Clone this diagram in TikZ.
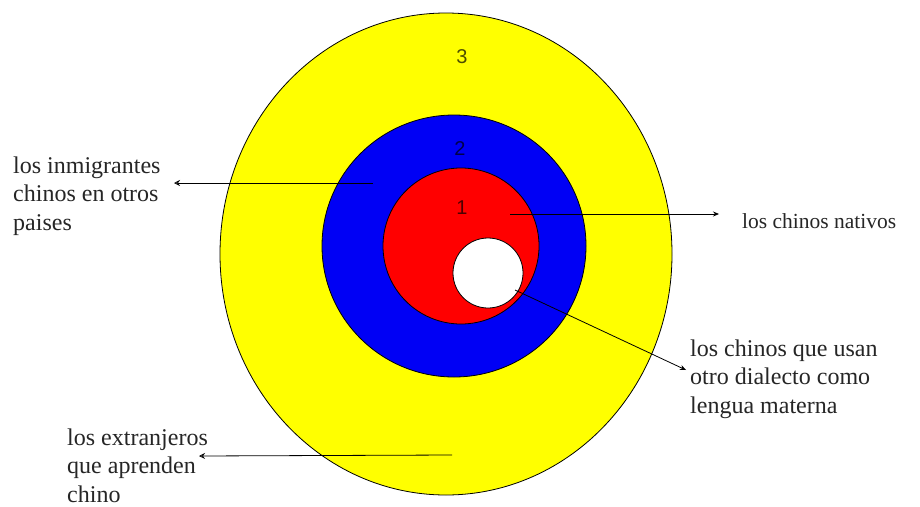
\documentclass[tikz,border=0pt]{standalone}
\usepackage{fontspec}
\setmainfont{Liberation Serif}
\newfontfamily\lblfont{Liberation Serif}
\newfontfamily\numfont{Liberation Sans}
\usetikzlibrary{arrows.meta}
\definecolor{ringyellow}{RGB}{255,255,0}
\definecolor{ringblue}{RGB}{0,0,245}
\definecolor{ringred}{RGB}{255,0,0}
\begin{document}
\begin{tikzpicture}[x=1pt,y=-1pt,
  ring/.style={draw=black, line width=0.8pt},
  lbl/.style={anchor=north west, inner sep=0pt, align=left, font=\lblfont\fontsize{24}{28.5}\selectfont, text=black!85},
  num/.style={font=\numfont\fontsize{20}{20}\selectfont, text=black, text opacity=0.7, inner sep=0pt},
  outarrow/.style={draw=black, line width=0.8pt, -{Stealth[length=6pt,width=5pt]}},
  inarrow/.style={draw=black, line width=0.8pt, -{Stealth[open,length=6pt,width=6pt]}}]
\fill[white] (0,0) rectangle (920,506);
\useasboundingbox (0,0) rectangle (920,506);
% rings
\draw[ring, fill=ringyellow] (446,254) ellipse [x radius=226, y radius=241];
\draw[ring, fill=ringblue] (454,246) ellipse [x radius=132, y radius=131];
\draw[ring, fill=ringred] (461,246) circle [radius=78];
\draw[ring, fill=white] (488,273) circle [radius=35];
% numbers
\node[num] (n3) at (462,57) {3};
\node[num] (n2) at (460,149) {2};
\node[num] (n1) at (462,208) {1};
% labels
\node[lbl] (inm) at (13,156.5) {los inmigrantes\\chinos en otros\\paises};
\node[lbl, font=\lblfont\fontsize{21.5}{26}\selectfont] (nat) at (742,213.5) {los chinos nativos};
\node[lbl] (dia) at (690,339.5) {los chinos que usan\\otro dialecto como\\lengua materna};
\node[lbl] (ext) at (67,428.5) {los extranjeros\\que aprenden\\chino};
% connector ends
\coordinate (sInm) at (373,183);
\coordinate (tInm) at (174,183);
\coordinate (sNat) at (510,214);
\coordinate (tNat) at (719,214);
\coordinate (sDia) at (515,290);
\coordinate (tDia) at (686,370);
\coordinate (sExt) at (452,455);
\coordinate (tExt) at (199,456);
\draw[inarrow] (sInm) -- (tInm);
\draw[outarrow] (sNat) -- (tNat);
\draw[outarrow] (sDia) -- (tDia);
\draw[inarrow] (sExt) -- (tExt);
\end{tikzpicture}
\end{document}
